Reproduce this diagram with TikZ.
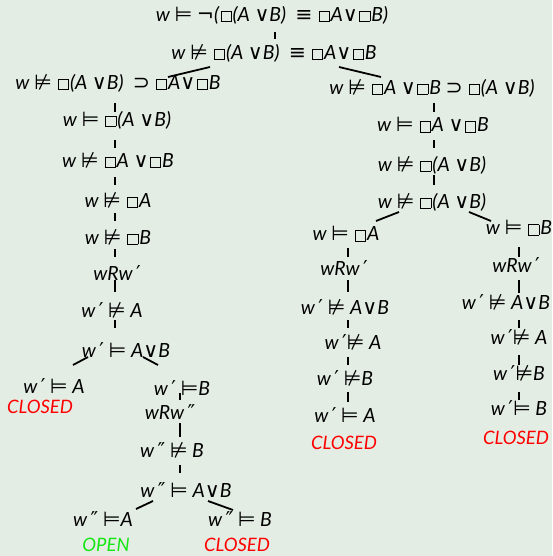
\documentclass[tikz,border=0pt]{standalone}
\usepackage{fontspec}
\setmainfont{Lato}
\newfontfamily\symfont{DejaVu Sans}[Scale=1.05]
\usetikzlibrary{calc}

\definecolor{paper}{RGB}{228,237,228}
\definecolor{closedred}{RGB}{255,0,0}
\definecolor{opengreen}{RGB}{20,230,20}

% logical symbols, set upright
\newcommand\sat{{\symfont\upshape ⊨}}
\newcommand\nsat{{\symfont\upshape ⊭}}
\newcommand\vel{{\symfont\upshape ∨}}
\newcommand\eqv{{\symfont\upshape ≡}}
\newcommand\imp{{\symfont\upshape ⊃}}
\newcommand\ngt{{\symfont\upshape ¬}}
\newcommand\pr{{\symfont\upshape\,′}}
\newcommand\ppr{{\symfont\upshape\,″}}
\newcommand\bx{\kern1.5pt\raisebox{0.3pt}{\fboxsep=0pt\fboxrule=0.75pt\fbox{\rule{0pt}{9.5pt}\rule{9.5pt}{0pt}}}\kern1pt}

\tikzset{
  fm/.style={inner sep=0pt, anchor=center, font=\fontsize{19.5}{22}\selectfont\itshape},
  verdict/.style={fm, font=\fontsize{18.5}{22}\selectfont\itshape},
  edge/.style={line width=1.8pt, black}
}

\begin{document}
\begin{tikzpicture}[x=1pt, y=-1pt]
  \fill[paper] (0,0) rectangle (552,556);
  \useasboundingbox (0,0) rectangle (552,556);

  % trunk
  \node[fm] (root) at (272,15)  {w \sat\ \ngt(\bx(A \vel B)\ \ \eqv\ \bx A\vel\bx B)};
  \node[fm] (n2)   at (274,53)  {w \nsat\ \bx(A \vel B)\ \ \eqv\ \bx A\vel\bx B};

  % left branch
  \node[fm] (L1)  at (118,83)  {w \nsat\ \bx(A \vel B)\ \ \imp\ \bx A\vel\bx B};
  \node[fm] (L2)  at (117,120) {w \sat\ \bx(A \vel B)};
  \node[fm] (L3)  at (118,160) {w \nsat\ \bx A \vel\bx B};
  \node[fm] (L4)  at (118,200) {w \nsat\ \bx A};
  \node[fm] (L5)  at (118,237) {w \nsat\ \bx B};
  \node[fm] (L6)  at (117,273) {wRw\pr};
  \node[fm] (L7)  at (112,310) {w\pr\ \nsat\ A};
  \node[fm] (L8)  at (126,350) {w\pr\ \sat\ A\vel B};
  \node[fm] (L9a) at (54,386)  {w\pr\ \sat\ A};
  \node[verdict, text=closedred] (c1) at (40,407) {CLOSED};
  \node[fm] (L9b) at (182,388) {w\pr\ \sat B};
  \node[fm] (L10) at (170,412) {wRw\ppr};
  \node[fm] (L11) at (172,450) {w\ppr\ \nsat\ B};
  \node[fm] (L12) at (186,490) {w\ppr\ \sat\ A\vel B};
  \node[fm] (L13a) at (103,519) {w\ppr\ \sat A};
  \node[verdict, text=opengreen] (o1) at (106,545) {OPEN};
  \node[fm] (L13b) at (240,519) {w\ppr\ \sat\ B};
  \node[verdict, text=closedred] (c2) at (237,545) {CLOSED};

  % right branch
  \node[fm] (R1)  at (432,88)  {w \nsat\ \bx A \vel\bx B \imp\ \bx(A \vel B)};
  \node[fm] (R2)  at (433,125) {w \sat\ \bx A \vel\bx B};
  \node[fm] (R3)  at (432,165) {w \nsat\ \bx(A \vel B)};
  \node[fm] (R4)  at (432,202) {w \nsat\ \bx(A \vel B)};
  \node[fm] (RA1) at (346,234) {w \sat\ \bx A};
  \node[fm] (RA2) at (344,268) {wRw\pr};
  \node[fm] (RA3) at (345,307) {w\pr\ \nsat\ A\vel B};
  \node[fm] (RA4) at (353,342) {w\pr\nsat\ A};
  \node[fm] (RA5) at (345,378) {w\pr\ \nsat B};
  \node[fm] (RA6) at (345,415) {w\pr\ \sat\ A};
  \node[verdict, text=closedred] (c3) at (344,443) {CLOSED};
  \node[fm] (RB1) at (519,228) {w \sat\ \bx B};
  \node[fm] (RB2) at (516,265) {wRw\pr};
  \node[fm] (RB3) at (506,302) {w\pr\ \nsat\ A\vel B};
  \node[fm] (RB4) at (519,337) {w\pr\nsat\ A};
  \node[fm] (RB5) at (519,373) {w\pr\nsat B};
  \node[fm] (RB6) at (519,408) {w\pr\sat\ B};
  \node[verdict, text=closedred] (c4) at (516,438) {CLOSED};

  % connectors of the trunk and left branch
  \draw[edge] ($(root)+(3,17)$) -- ($(n2)+(1,-14)$);
  \draw[edge] ($(n2)+(-64,14)$) -- ($(L1)+(50,-6)$);
  \draw[edge] ($(n2)+(65,14)$) -- ($(R1)+(-51,-11)$);
  \draw[edge] ($(L1)+(-3,20)$) -- ($(L2)+(-2,-8)$);
  \draw[edge] ($(L2)+(-2,20)$) -- ($(L3)+(-3,-12)$);
  \draw[edge] ($(L3)+(-3,17)$) -- ($(L4)+(-3,-15)$);
  \draw[edge] ($(L4)+(-3,13)$) -- ($(L5)+(-3,-16)$);
  \draw[edge] ($(L5)+(-3,12)$) -- ($(L6)+(-2,-16)$);
  \draw[edge] ($(L6)+(-2,7)$) -- ($(L7)+(3,-18)$);
  \draw[edge] ($(L7)+(3,10)$) -- ($(L8)+(-11,-22)$);
  \draw[edge] ($(L8)+(-38,7)$) -- ($(L9a)+(19,-21)$);
  \draw[edge] ($(L8)+(17,7)$) -- ($(L9b)+(-24,-23)$);
  \draw[edge] ($(L9b)+(-2,5)$) -- ($(L10)+(10,-12)$);
  \draw[edge] ($(L10)+(10,11)$) -- ($(L11)+(8,-13)$);
  \draw[edge] ($(L11)+(8,15)$) -- ($(L12)+(-6,-17)$);
  \draw[edge] ($(L12)+(-33,11)$) -- ($(L13a)+(33,-10)$);
  \draw[edge] ($(L12)+(22,11)$) -- ($(L13b)+(-7,-9)$);

  % connectors of the right branch
  \draw[edge] ($(R1)+(2,15)$) -- ($(R2)+(1,-13)$);
  \draw[edge] ($(R2)+(1,15)$) -- ($(R3)+(2,-17)$);
  \draw[edge] ($(R3)+(2,10)$) -- ($(R4)+(2,-17)$);
  \draw[edge] ($(R4)+(-33,10)$) -- ($(RA1)+(30,-13)$);
  \draw[edge] ($(R4)+(37,10)$) -- ($(RB1)+(-28,-7)$);
  \draw[edge] ($(RA1)+(2,14)$) -- ($(RA2)+(4,-11)$);
  \draw[edge] ($(RA2)+(4,12)$) -- ($(RA3)+(3,-15)$);
  \draw[edge] ($(RA3)+(3,13)$) -- ($(RA4)+(-5,-14)$);
  \draw[edge] ($(RA4)+(-5,15)$) -- ($(RA5)+(3,-13)$);
  \draw[edge] ($(RA5)+(3,14)$) -- ($(RA6)+(3,-13)$);
  \draw[edge] ($(RB1)+(0,19)$) -- ($(RB2)+(3,-8)$);
  \draw[edge] ($(RB2)+(3,15)$) -- ($(RB3)+(13,-9)$);
  \draw[edge] ($(RB3)+(13,18)$) -- ($(RB4)+(0,-9)$);
  \draw[edge] ($(RB4)+(0,18)$) -- ($(RB5)+(0,-8)$);
  \draw[edge] ($(RB5)+(0,19)$) -- ($(RB6)+(0,-8)$);
\end{tikzpicture}
\end{document}
